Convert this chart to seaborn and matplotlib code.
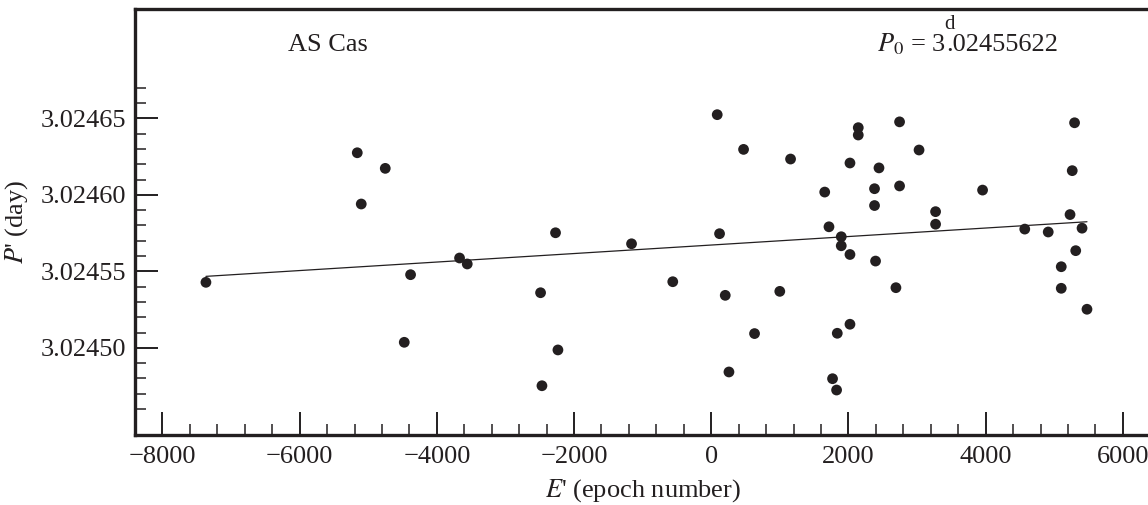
import numpy as np
import pandas as pd
import matplotlib
matplotlib.use("Agg")
import matplotlib.pyplot as plt
import matplotlib.ticker as mticker
import seaborn as sns

# epoch numbers E' and periods P' (days)
epoch = [-7366, -5160, -5102, -4752, -4475, -4383, -3669, -3557, -2488, -2468,
         -2270, -2235, -1162, -561, 87, 121, 204, 258, 471, 631,
         999, 1156, 1654, 1716, 1768, 1827, 1837, 1895, 1895, 2022,
         2022, 2022, 2143, 2143, 2380, 2380, 2395, 2445, 2692, 2745,
         2745, 3029, 3270, 3270, 3955, 4570, 4912, 5102, 5102, 5230,
         5262, 5296, 5313, 5405, 5477]
period = [3.0245428, 3.0246275, 3.0245940, 3.0246173, 3.0245036, 3.0245478, 3.0245587, 3.0245548, 3.0245360, 3.0244752,
          3.0245752, 3.0244986, 3.0245680, 3.0245432, 3.0246524, 3.0245746, 3.0245343, 3.0244842, 3.0246297, 3.0245093,
          3.0245369, 3.0246234, 3.0246018, 3.0245791, 3.0244798, 3.0244724, 3.0245095, 3.0245726, 3.0245667, 3.0246208,
          3.0245610, 3.0245154, 3.0246439, 3.0246391, 3.0246040, 3.0245930, 3.0245567, 3.0246176, 3.0245393, 3.0246477,
          3.0246058, 3.0246293, 3.0245890, 3.0245808, 3.0246031, 3.0245776, 3.0245757, 3.0245530, 3.0245389, 3.0245871,
          3.0246158, 3.0246471, 3.0245635, 3.0245782, 3.0245252]

# linear trend line (end points)
fit_epoch = [-7366, 5477]
fit_period = [3.0245467, 3.0245824]

df = pd.DataFrame({"E": epoch, "P": period})
fit = pd.DataFrame({"E": fit_epoch, "P": fit_period})

sns.set_style("ticks")
plt.rcParams["font.family"] = ["Liberation Serif", "DejaVu Serif"]
plt.rcParams["mathtext.fontset"] = "stix"
plt.rcParams["font.size"] = 19

ink = "#231f20"
fig = plt.figure(figsize=(11.48, 5.05), dpi=100)
ax = fig.add_axes([135 / 1148, 70 / 505, 1015.3 / 1148, 426.5 / 505])

sns.lineplot(x="E", y="P", data=fit, color=ink, linewidth=0.9, ax=ax)
sns.scatterplot(x="E", y="P", data=df, color=ink, s=60, edgecolor="none", ax=ax)

ax.set_xlim(-8400, 6400)
ax.set_ylim(3.024443, 3.0247218)

ax.xaxis.set_major_locator(mticker.MultipleLocator(2000))
ax.xaxis.set_minor_locator(mticker.FixedLocator(np.arange(-8000, 6001, 400)))
ax.yaxis.set_major_locator(mticker.FixedLocator([3.02450, 3.02455, 3.02460, 3.02465]))
ax.yaxis.set_minor_locator(mticker.FixedLocator(np.arange(3.02446, 3.024675, 0.00001)))
ax.yaxis.set_major_formatter(mticker.FormatStrFormatter("%.5f"))

ax.tick_params(which="major", direction="in", length=16.5, width=1.4, colors=ink,
               labelsize=19, labelcolor=ink)
ax.tick_params(which="minor", direction="in", length=8, width=1.1, colors=ink)
ax.tick_params(axis="x", pad=8)
ax.tick_params(axis="y", pad=6)

for side in ["left", "bottom", "top"]:
    ax.spines[side].set_linewidth(2.4)
    ax.spines[side].set_color(ink)
ax.spines["right"].set_visible(False)

ax.set_xlabel("$E$' (epoch number)", fontsize=19, color=ink)
ax.set_ylabel("$P$' (day)", fontsize=19, color=ink)
ax.xaxis.set_label_coords(0.5, -0.10)
ax.yaxis.set_label_coords(-0.103, 0.5)

ax.text(0.1507, 0.90, "AS Cas", transform=ax.transAxes, fontsize=19,
        color=ink, ha="left", va="baseline")
ax.text(0.799, 0.90, "$P_0$ = 3", transform=ax.transAxes, fontsize=19,
        color=ink, ha="right", va="baseline")
ax.text(0.799, 0.90, ".02455622", transform=ax.transAxes, fontsize=19,
        color=ink, ha="left", va="baseline")
ax.text(0.8025, 0.953, "d", transform=ax.transAxes, fontsize=15,
        color=ink, ha="center", va="baseline")

fig.savefig("out.png", dpi=100)
